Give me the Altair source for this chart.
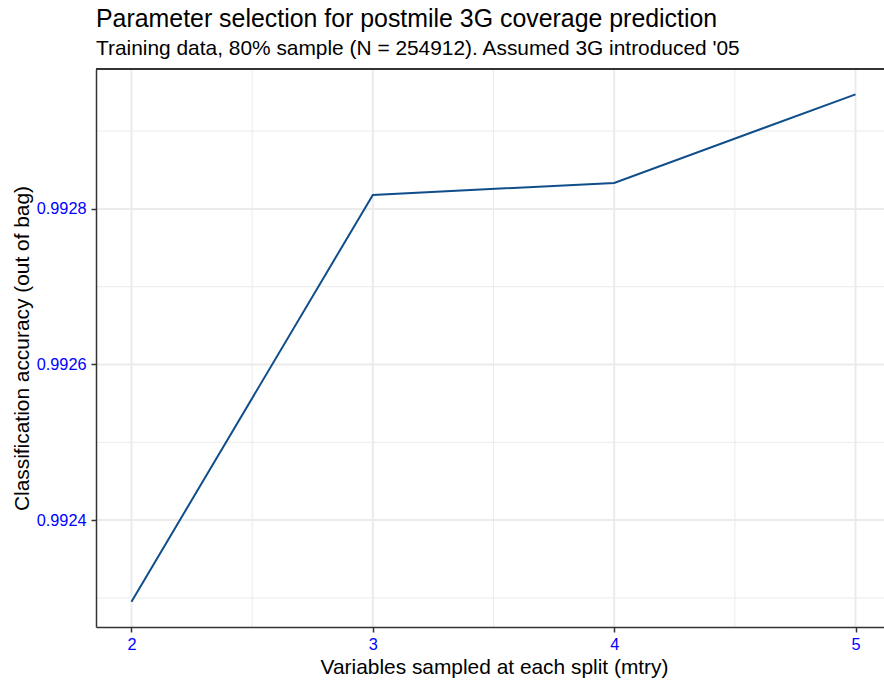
import altair as alt
import pandas as pd

# Out-of-bag accuracy by mtry
mtry = [2, 3, 4, 5]
accuracy = [0.9922952, 0.9928180, 0.9928334, 0.9929472]

# Axis breaks
x_major = [2, 3, 4, 5]
x_minor = [2.5, 3.5, 4.5]
y_major = [0.9924, 0.9926, 0.9928]
y_minor = [0.9923, 0.9925, 0.9927, 0.9929]

X_DOMAIN = [1.853, 5.118]
Y_DOMAIN = [0.9922626, 0.9929798]
W, H = 788, 558
FONT = "Liberation Sans"
GRID = "#EBEBEB"
DARK = "#333333"

df = pd.DataFrame({"mtry": mtry, "accuracy": accuracy})
xs = alt.Scale(domain=X_DOMAIN, nice=False, zero=False)
ys = alt.Scale(domain=Y_DOMAIN, nice=False, zero=False)

x_axis = alt.Axis(
    values=x_major,
    format="d",
    grid=False,
    title="Variables sampled at each split (mtry)",
    titleX=398,
    titleY=46,
    titleBaseline="alphabetic",
    labelBaseline="alphabetic",
    labelPadding=17,
    zindex=2,
)
y_axis = alt.Axis(
    values=y_major,
    format=".4f",
    grid=False,
    title="Classification accuracy (out of bag)",
    titleAngle=270,
    titleX=-68,
    titleY=H / 2,
    titleBaseline="alphabetic",
    titleAlign="center",
    labelPadding=5,
    zindex=2,
)


def vgrid(vals, width):
    return alt.Chart(pd.DataFrame({"mtry": vals})).mark_rule(
        color=GRID, strokeWidth=width
    ).encode(x=alt.X("mtry:Q", scale=xs, axis=x_axis))


def hgrid(vals, width):
    return alt.Chart(pd.DataFrame({"accuracy": vals})).mark_rule(
        color=GRID, strokeWidth=width
    ).encode(y=alt.Y("accuracy:Q", scale=ys, axis=y_axis))


line = alt.Chart(df).mark_line(color="#104E8B", strokeWidth=2, clip=True).encode(
    x=alt.X("mtry:Q", scale=xs, axis=x_axis),
    y=alt.Y("accuracy:Q", scale=ys, axis=y_axis),
)

# Top edge of the panel frame
top_edge = alt.Chart(df).mark_rule(color=DARK, strokeWidth=1.5).encode(
    y=alt.value(0), x=alt.value(0), x2=alt.value(W + 10)
)

chart = (
    alt.layer(
        vgrid(x_minor, 1), hgrid(y_minor, 1),
        vgrid(x_major, 2), hgrid(y_major, 2),
        line, top_edge,
    )
    .properties(
        width=W,
        height=H,
        autosize=alt.AutoSizeParams(type="none"),
        padding={"left": 96, "top": 69, "right": 0, "bottom": 54},
        title=alt.TitleParams(
            text="Parameter selection for postmile 3G coverage prediction",
            subtitle="Training data, 80% sample (N = 254912). Assumed 3G introduced '05",
            anchor="start",
            frame="group",
            fontSize=24.9,
            subtitleFontSize=20.9,
            font=FONT,
            subtitleFont=FONT,
            fontWeight="normal",
            color="black",
            subtitleColor="black",
            subtitlePadding=6,
            offset=9,
        ),
    )
    .configure_view(stroke=None)
    .configure_axis(
        labelFont=FONT,
        titleFont=FONT,
        labelFontSize=16.3,
        titleFontSize=20.9,
        labelColor="#0000FF",
        titleColor="black",
        titleFontWeight="normal",
        tickColor=DARK,
        tickWidth=1.5,
        tickSize=5,
        domainColor=DARK,
        domainWidth=1.5,
    )
)

chart.save("out.html", embed_options={"renderer": "svg", "actions": False})
